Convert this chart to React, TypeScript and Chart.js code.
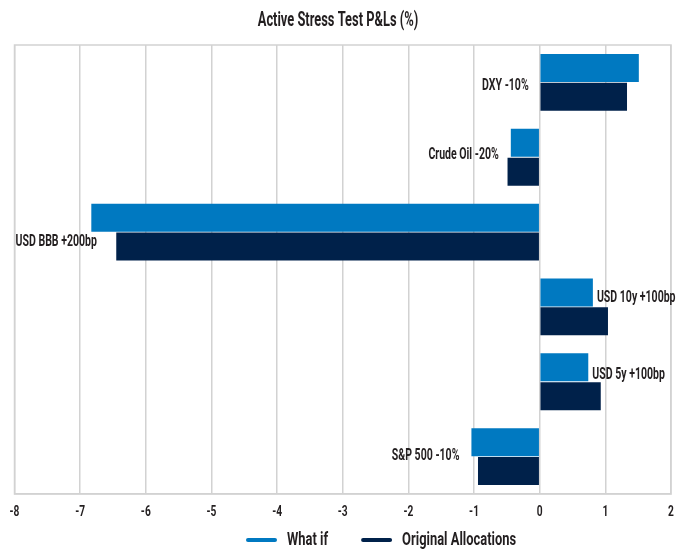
import React, { useEffect, useRef } from "react";
import { Chart, registerables } from "chart.js";

Chart.register(...registerables);

const categories = [
  "DXY -10%",
  "Crude Oil -20%",
  "USD BBB +200bp",
  "USD 10y +100bp",
  "USD 5y +100bp",
  "S&P 500 -10%",
];
const whatIf = [1.51, -0.44, -6.83, 0.81, 0.74, -1.04];
const originalAllocations = [1.33, -0.49, -6.45, 1.04, 0.93, -0.94];
const seriesNames = ["What if", "Original Allocations"];
const xTicks = [-8, -7, -6, -5, -4, -3, -2, -1, 0, 1, 2];
const chartTitle = "Active Stress Test P&Ls (%)";

const BLUE = "#0079c1";
const NAVY = "#00214a";
const GRID = "#d2d2d2";
const INK = "#231f20";
const FONT = "Roboto, 'DejaVu Sans Condensed', sans-serif";

// where each category name sits relative to its bars
const labelPlacement = [
  { side: "zeroLeft", dy: 3 },
  { side: "endLeft", dy: -3 },
  { side: "endLeft", dy: 10 },
  { side: "endRight", dy: -9 },
  { side: "endRight", dy: -7 },
  { side: "endLeft", dy: -1 },
];

// bold, horizontally squeezed text (condensed look)
function squeezedText(
  ctx: CanvasRenderingContext2D,
  text: string,
  x: number,
  y: number,
  align: "left" | "right" | "center",
  size: number,
  sx: number
) {
  ctx.save();
  ctx.font = `bold ${size}px ${FONT}`;
  ctx.textBaseline = "middle";
  ctx.textAlign = "left";
  ctx.fillStyle = INK;
  const w = ctx.measureText(text).width * sx;
  const left = align === "left" ? x : align === "right" ? x - w : x - w / 2;
  ctx.translate(left, y);
  ctx.scale(sx, 1);
  ctx.fillText(text, 0, 0);
  ctx.restore();
  return w;
}

function textWidth(ctx: CanvasRenderingContext2D, text: string, size: number, sx: number) {
  ctx.save();
  ctx.font = `bold ${size}px ${FONT}`;
  const w = ctx.measureText(text).width * sx;
  ctx.restore();
  return w;
}

const decorPlugin = {
  id: "decor",
  beforeDraw(chart: any) {
    const { ctx, width, height } = chart;
    ctx.save();
    ctx.fillStyle = "#ffffff";
    ctx.fillRect(0, 0, width, height);
    ctx.restore();
  },
  afterDraw(chart: any) {
    const { ctx, chartArea, width } = chart;
    const xs = chart.scales.x;
    const ys = chart.scales.y;
    ctx.save();

    // plot frame
    ctx.strokeStyle = GRID;
    ctx.lineWidth = 1.5;
    ctx.strokeRect(chartArea.left, chartArea.top, chartArea.right - chartArea.left, chartArea.bottom - chartArea.top);
    ctx.restore();

    // title
    squeezedText(ctx, chartTitle, width / 2, 21, "center", 19.5, 0.66);

    // x tick labels
    xTicks.forEach((v) => {
      squeezedText(ctx, String(v), xs.getPixelForValue(v), 512, "center", 15, 0.68);
    });

    // category names beside the bars
    const cSize = 17;
    const cSx = 0.62;
    categories.forEach((name, i) => {
      const p = labelPlacement[i];
      const y = ys.getPixelForValue(i) + p.dy;
      const tw = textWidth(ctx, name, cSize, cSx);
      let x: number;
      if (p.side === "zeroLeft") {
        x = xs.getPixelForValue(0) - 11 - tw;
      } else if (p.side === "endLeft") {
        x = xs.getPixelForValue(whatIf[i]) - 12 - tw;
      } else {
        x = xs.getPixelForValue(whatIf[i]) + 4;
      }
      x = Math.max(x, chartArea.left + 1);
      squeezedText(ctx, name, x, y, "left", cSize, cSx);
    });

    // legend
    const colors = [BLUE, NAVY];
    const lineLen = 31;
    let lx = 246;
    const ly = 540;
    seriesNames.forEach((n, i) => {
      ctx.save();
      ctx.strokeStyle = colors[i];
      ctx.lineWidth = 4;
      ctx.lineCap = "round";
      ctx.beginPath();
      ctx.moveTo(lx + 2, ly);
      ctx.lineTo(lx + lineLen - 2, ly);
      ctx.stroke();
      ctx.restore();
      const w = squeezedText(ctx, n, lx + lineLen + 10, ly, "left", 19, 0.68);
      lx += lineLen + 10 + w + 33;
    });
  },
};

export default function App() {
  const ref = useRef<HTMLCanvasElement | null>(null);

  useEffect(() => {
    document.body.style.margin = "0";
    if (!ref.current) return;
    const chart = new Chart(ref.current, {
      type: "bar",
      data: {
        labels: categories,
        datasets: [
          {
            label: seriesNames[0],
            data: whatIf,
            backgroundColor: BLUE,
            categoryPercentage: 0.77,
            barPercentage: 0.97,
          },
          {
            label: seriesNames[1],
            data: originalAllocations,
            backgroundColor: NAVY,
            categoryPercentage: 0.77,
            barPercentage: 0.97,
          },
        ],
      },
      options: {
        indexAxis: "y",
        responsive: false,
        animation: false,
        layout: { padding: { top: 45, left: 14.5, right: 5, bottom: 0 } },
        plugins: {
          legend: { display: false },
          title: { display: false },
          tooltip: { enabled: false },
        },
        scales: {
          x: {
            min: -8,
            max: 2,
            ticks: { stepSize: 1, display: false },
            grid: { color: GRID, lineWidth: 1.5, drawTicks: false },
            border: { display: true, color: GRID, width: 1.5 },
            afterFit: (scale: any) => {
              scale.height = 56;
            },
          },
          y: {
            display: false,
            grid: { display: false },
          },
        },
      },
      plugins: [decorPlugin],
    } as any);
    return () => chart.destroy();
  }, []);

  return (
    <div style={{ width: 676, height: 550 }}>
      <canvas ref={ref} width={676} height={550} style={{ width: 676, height: 550, display: "block" }} />
    </div>
  );
}
